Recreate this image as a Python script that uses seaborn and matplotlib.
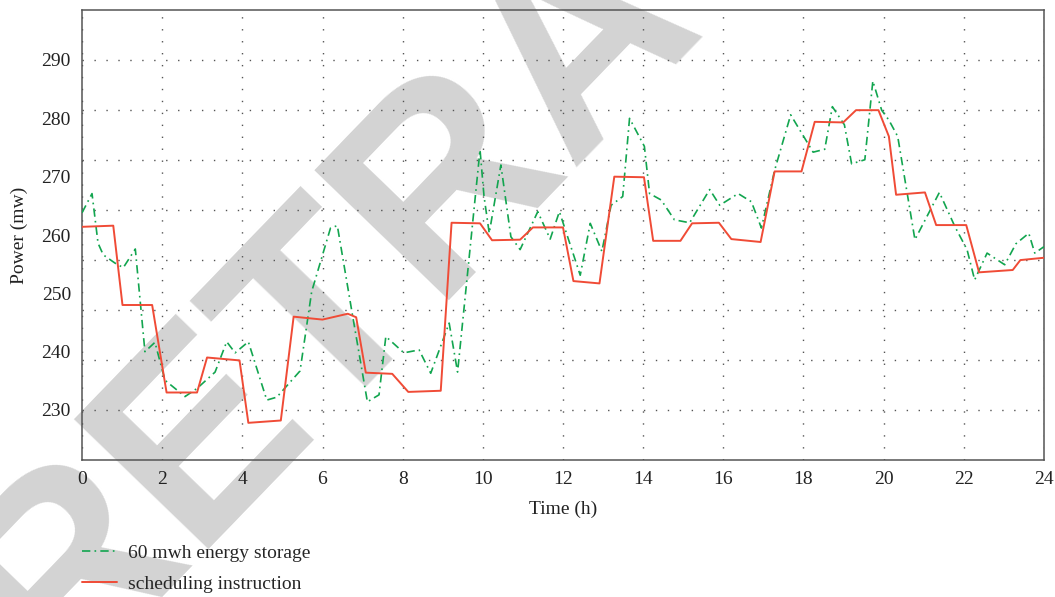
import numpy as np
import pandas as pd
import matplotlib
matplotlib.use("Agg")
import matplotlib.pyplot as plt
import seaborn as sns

# ---- data ----
sched_t = [0, 0.78, 1.01, 1.75, 2.11, 2.87, 3.12, 3.93, 4.15, 4.96, 5.28, 6.0,
           6.63, 6.84, 7.08, 7.74, 8.14, 8.95, 9.22, 9.93, 10.23, 10.93, 11.25,
           12.0, 12.26, 12.91, 13.28, 14.02, 14.25, 14.93, 15.22, 15.89, 16.2,
           16.93, 17.28, 17.95, 18.28, 18.99, 19.31, 19.87, 20.13, 20.31, 21.03,
           21.31, 22.06, 22.38, 23.22, 23.41, 24.0]
sched_p = [261.4, 261.6, 248.0, 248.0, 233.0, 233.0, 239.0, 238.5, 227.8, 228.2,
           246.0, 245.5, 246.5, 245.9, 236.4, 236.2, 233.1, 233.3, 262.1, 262.0,
           259.1, 259.2, 261.3, 261.3, 252.1, 251.7, 270.0, 269.9, 259.0, 259.0,
           262.0, 262.1, 259.3, 258.8, 270.9, 270.9, 279.4, 279.3, 281.4, 281.4,
           276.9, 266.9, 267.3, 261.7, 261.7, 253.6, 254.0, 255.7, 256.1]

storage_t = [0, 0.25, 0.4, 0.53, 0.82, 1.03, 1.33, 1.57, 1.82, 2.07, 2.32, 2.57,
             2.87, 3.32, 3.61, 3.82, 4.15, 4.61, 4.86, 5.44, 5.73, 6.2, 6.37,
             6.74, 7.12, 7.41, 7.58, 8.03, 8.41, 8.7, 9.16, 9.37, 9.93, 10.03,
             10.16, 10.45, 10.7, 10.93, 11.37, 11.68, 11.91, 12.43, 12.68, 12.97,
             13.2, 13.49, 13.66, 14.03, 14.16, 14.45, 14.78, 15.16, 15.66, 15.91,
             16.37, 16.7, 16.95, 17.28, 17.68, 18.24, 18.53, 18.72, 19.02, 19.2,
             19.53, 19.73, 19.95, 20.13, 20.35, 20.78, 21.39, 21.78, 22.08, 22.27,
             22.58, 23.02, 23.3, 23.62, 23.77, 24.0]
storage_p = [263.8, 267.1, 258.6, 256.6, 255.2, 254.4, 257.6, 240.0, 241.6, 235.1,
             233.7, 232.3, 233.7, 236.5, 241.7, 239.8, 241.7, 231.7, 232.2, 236.7,
             250.3, 261.2, 261.6, 246.6, 231.4, 232.6, 242.6, 239.8, 240.3, 236.3,
             244.9, 236.5, 274.6, 266.6, 260.3, 272.0, 259.7, 257.5, 264.0, 259.3,
             264.0, 253.1, 262.0, 257.2, 265.1, 266.6, 280.0, 275.2, 267.1, 266.0,
             262.6, 262.1, 267.8, 265.1, 267.1, 265.7, 261.2, 271.1, 280.6, 274.2,
             274.7, 282.0, 278.9, 272.2, 272.9, 286.4, 281.4, 279.7, 276.9, 259.2,
             267.3, 261.4, 257.5, 252.3, 256.9, 254.9, 258.5, 260.3, 256.9, 258.0]

x_ticks = [0, 2, 4, 6, 8, 10, 12, 14, 16, 18, 20, 22, 24]
y_ticks = [230, 240, 250, 260, 270, 280, 290]
labels = ["60 mwh energy storage", "scheduling instruction"]

# ---- style ----
sns.set_theme(style="white")
plt.rcParams["font.family"] = ["Liberation Serif", "DejaVu Serif"]

fig = plt.figure(figsize=(10.55, 5.97), dpi=100)
ax = fig.add_axes([82 / 1055, 1 - 460 / 597, (1044 - 82) / 1055, 450 / 597])
ax.set_facecolor("none")

# watermark (behind the plot)
fig.text(0.555, 0.935, "RETRACTED", rotation=46, fontsize=195, color="#d3d3d3",
         fontweight="bold", family="Liberation Sans", ha="center", va="center",
         zorder=-5)

df_s = pd.DataFrame({"t": storage_t, "p": storage_p})
df_r = pd.DataFrame({"t": sched_t, "p": sched_p})

green = "#12a54f"
red = "#f04b36"
sns.lineplot(data=df_s, x="t", y="p", ax=ax, color=green, linewidth=1.2,
             linestyle=(0, (5, 2.5, 1, 2.5)), label=labels[0], zorder=3)
sns.lineplot(data=df_r, x="t", y="p", ax=ax, color=red, linewidth=1.4,
             label=labels[1], zorder=4)

ax.set_xlim(0, 24)
ax.set_ylim(230 - 60 / 7, 290 + 60 / 7)
ax.set_xticks(x_ticks)
ax.set_yticks(y_ticks)
ax.yaxis.remove_overlapping_locs = False
ax.set_yticks(np.linspace(230, 290, 8), minor=True)
ax.tick_params(axis="both", which="both", length=0, labelsize=14, pad=8,
               colors="#222222")
ax.grid(False)
ax.xaxis.grid(True, which="major", linestyle=(0, (1, 7.6)), color="#555555",
              linewidth=1.0)
ax.yaxis.grid(True, which="minor", linestyle=(0, (1, 7.6)), color="#555555",
              linewidth=1.0)
for sp in ax.spines.values():
    sp.set_color("#555555")
    sp.set_linewidth(1.1)

ax.set_xlabel("Time (h)", fontsize=14, labelpad=9, color="#222222")
ax.set_ylabel("Power (mw)", fontsize=14, labelpad=10, color="#222222")

h, l = ax.get_legend_handles_labels()
ax.get_legend().remove()
fig.legend(h, l, loc="upper left", bbox_to_anchor=(82 / 1055, 1 - 544 / 597),
           frameon=False, fontsize=14, borderpad=0, borderaxespad=0,
           handlelength=1.8, handletextpad=0.55, labelspacing=0.7)

fig.savefig("out.png", dpi=100)
